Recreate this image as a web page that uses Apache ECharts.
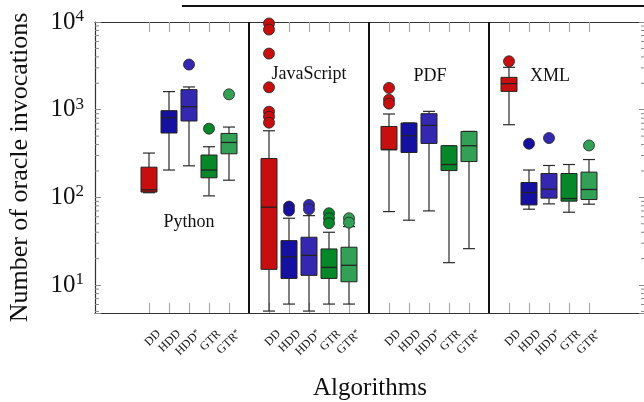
<!DOCTYPE html>
<html><head><meta charset="utf-8">
<script src="https://cdn.jsdelivr.net/npm/echarts@6/dist/echarts.min.js"></script>
<style>html,body{margin:0;padding:0;background:#fff}#c{width:644px;height:402px}</style>
</head><body><div id="c"></div>
<script>
const groups = ['Python', 'JavaScript', 'PDF', 'XML'];
const algorithms = ['DD', 'HDD', 'HDD*', 'GTR', 'GTR*'];
// per group (Python, JavaScript, PDF, XML): [min, Q1, median, Q3, max]
const ddStats      = [[113, 115, 122, 221, 320], [5.05, 15.1, 77.3, 277, 575], [68.8, 349, 351, 644, 893], [674, 1618, 1982, 2338, 3041]];
const hddStats     = [[205, 542, 811, 974, 1607], [6.07, 11.9, 21.0, 32.1, 57.8], [54.9, 325, 505, 705, 705], [73.3, 82, 113.5, 147.6, 205]];
const hddStarStats = [[229, 743, 1082, 1693, 1817], [5.05, 12.9, 21.8, 35.1, 61.9], [70.1, 412, 662, 900, 957], [84.3, 98, 124, 187, 231]];
const gtrStats     = [[104, 167, 205, 304, 378], [6.07, 11.9, 15.9, 25.8, 40], [18.0, 202, 237, 388, 388], [67.7, 90.5, 96.9, 187, 237]];
const gtrStarStats = [[157, 314, 423, 536, 634], [6.07, 10.9, 16.8, 27, 46.4], [26.0, 256, 388, 565, 565], [83.6, 94.4, 123, 194, 270]];
// outliers: [groupIndex, value]
const ddOutliers      = [[1, 9620], [1, 8204], [1, 4365], [1, 1799], [1, 949], [1, 832], [1, 710], [2, 1771], [2, 1301], [2, 1172], [3, 3565]];
const hddOutliers     = [[1, 78.5], [1, 70.6], [3, 409]];
const hddStarOutliers = [[0, 3268], [1, 82], [1, 73.3], [3, 475]];
const gtrOutliers     = [[0, 607], [1, 65.9], [1, 57.8], [1, 50.7]];
const gtrStarOutliers = [[0, 1496], [1, 57.8], [1, 51.5], [3, 391]];
const yMajorTicks = [10, 100, 1000, 10000];
const yMinorTicks = [5, 6, 7, 8, 9, 20, 30, 40, 50, 60, 70, 80, 90, 200, 300, 400, 500, 600, 700, 800, 900, 2000, 3000, 4000, 5000, 6000, 7000, 8000, 9000];

const colors = ['#c80f0f', '#1510a0', '#3428b0', '#06872a', '#32a055'];
const allStats = [ddStats, hddStats, hddStarStats, gtrStats, gtrStarStats];
const allOutliers = [ddOutliers, hddOutliers, hddStarOutliers, gtrOutliers, gtrStarOutliers];
const SLOT = algorithms.length + 1;
const XMIN = -2.7, XMAX = 24.8;
const xPos = (g, a) => g * SLOT + a;
const tickPositions = [];
groups.forEach((_, g) => algorithms.forEach((_, a) => tickPositions.push(xPos(g, a))));
const LABEL_SHIFT = 0.5;
const labelPositions = tickPositions.map(p => p + LABEL_SHIFT);
const SERIF = '"Liberation Serif", "DejaVu Serif", serif';

function renderBox(params, api) {
  const x = api.value(0);
  const lo = api.coord([x, api.value(1)]);
  const q1 = api.coord([x, api.value(2)]);
  const md = api.coord([x, api.value(3)]);
  const q3 = api.coord([x, api.value(4)]);
  const hi = api.coord([x, api.value(5)]);
  const cx = lo[0], bw = 16, cw = 12;
  const ws = { stroke: '#2a2a2a', lineWidth: 1.2 };
  return { type: 'group', children: [
    { type: 'line', shape: { x1: cx, y1: hi[1], x2: cx, y2: q3[1] }, style: ws },
    { type: 'line', shape: { x1: cx, y1: q1[1], x2: cx, y2: lo[1] }, style: ws },
    { type: 'line', shape: { x1: cx - cw / 2, y1: hi[1], x2: cx + cw / 2, y2: hi[1] }, style: ws },
    { type: 'line', shape: { x1: cx - cw / 2, y1: lo[1], x2: cx + cw / 2, y2: lo[1] }, style: ws },
    { type: 'rect', shape: { x: cx - bw / 2, y: q3[1], width: bw, height: q1[1] - q3[1] }, style: { fill: api.visual('color'), stroke: '#222', lineWidth: 1 } },
    { type: 'line', shape: { x1: cx - bw / 2, y1: md[1], x2: cx + bw / 2, y2: md[1] }, style: { stroke: '#222', lineWidth: 1.3 } }
  ] };
}
function renderMinor(params, api) {
  const v = api.value(1);
  const left = api.coord([XMIN, v]);
  const right = api.coord([XMAX, v]);
  const st = { stroke: '#888', lineWidth: 1 };
  return { type: 'group', children: [
    { type: 'line', shape: { x1: left[0], y1: left[1], x2: left[0] + 4, y2: left[1] }, style: st },
    { type: 'line', shape: { x1: right[0] - 4, y1: right[1], x2: right[0], y2: right[1] }, style: st }
  ] };
}
function xLabel(v) {
  const a = Math.round(v - LABEL_SHIFT) % SLOT;
  const name = algorithms[a] || '';
  if (name.endsWith('*')) return '{t|' + name.slice(0, -1) + '}{s|*}';
  return '{t|' + name + '}';
}
function yLabel(v) {
  const e = Math.log10(v);
  if (Math.abs(e - Math.round(e)) > 1e-6) return '';
  return '{b|10}{e|' + Math.round(e) + '}';
}

const series = [];
algorithms.forEach((name, a) => {
  series.push({
    type: 'custom', name: name, renderItem: renderBox, itemStyle: { color: colors[a] },
    encode: { x: 0, y: [1, 2, 3, 4, 5] }, z: 3,
    data: allStats[a].map((s, g) => [xPos(g, a)].concat(s)),
    markLine: a === 0 ? {
      silent: true, symbol: 'none', label: { show: false }, animation: false,
      lineStyle: { color: '#111', width: 2, type: 'solid' },
      data: [{ xAxis: xPos(1, -1) }, { xAxis: xPos(2, -1) }, { xAxis: xPos(3, -1) }]
    } : undefined
  });
});
algorithms.forEach((name, a) => {
  series.push({
    type: 'scatter', name: name + ' outliers', symbol: 'circle', symbolSize: 11, z: 4,
    itemStyle: { color: colors[a], borderColor: '#222', borderWidth: 0.8, opacity: 1 },
    data: allOutliers[a].map(o => [xPos(o[0], a), o[1]])
  });
});
series.push({ type: 'custom', renderItem: renderMinor, encode: { x: 0, y: 1 }, z: 5, silent: true, clip: false,
  data: yMinorTicks.map(v => [0, v]) });

const chart = echarts.init(document.getElementById('c'), null, { renderer: 'canvas' });
chart.setOption({
  animation: false,
  backgroundColor: '#fff',
  grid: { left: 95, top: 22, width: 550, height: 291, outerBoundsMode: 'none', containLabel: false },
  xAxis: [{
    type: 'value', min: XMIN, max: XMAX, position: 'bottom',
    name: 'Algorithms', nameLocation: 'middle', nameGap: 63,
    nameTextStyle: { fontFamily: SERIF, fontSize: 25, color: '#111' },
    axisLine: { show: true, onZero: false, lineStyle: { color: '#333', width: 1.2 } },
    axisTick: { show: true, inside: true, length: 10, customValues: tickPositions, lineStyle: { color: '#aaa', width: 1.2 } },
    axisLabel: { show: true, rotate: 45, margin: 19, customValues: labelPositions, formatter: xLabel,
      rich: { t: { fontFamily: SERIF, fontSize: 12, color: '#111' }, s: { fontFamily: SERIF, fontSize: 9, color: '#111', verticalAlign: 'top' } } },
    splitLine: { show: false }
  }, {
    type: 'value', min: XMIN, max: XMAX, position: 'top',
    axisLine: { show: true, onZero: false, lineStyle: { color: '#333', width: 1.2 } },
    axisTick: { show: true, inside: true, length: 10, customValues: tickPositions, lineStyle: { color: '#aaa', width: 1.2 } },
    axisLabel: { show: false }, splitLine: { show: false }
  }],
  yAxis: [{
    type: 'log', logBase: 10, min: 4.8, max: 10000, position: 'left',
    name: 'Number of oracle invocations', nameLocation: 'middle', nameGap: 62,
    nameTextStyle: { fontFamily: SERIF, fontSize: 26, color: '#111' },
    axisLine: { show: true, onZero: false, lineStyle: { color: '#333', width: 1.2 } },
    axisTick: { show: true, inside: true, length: 6, lineStyle: { color: '#888', width: 1 } },
    axisLabel: { show: true, margin: 11, formatter: yLabel,
      rich: { b: { fontFamily: SERIF, fontSize: 25, color: '#111', lineHeight: 28 }, e: { fontFamily: SERIF, fontSize: 17, color: '#111', verticalAlign: 'top', lineHeight: 18 } } },
    splitLine: { show: false }, minorTick: { show: false }
  }, {
    type: 'log', logBase: 10, min: 4.8, max: 10000, position: 'right',
    axisLine: { show: true, onZero: false, lineStyle: { color: '#333', width: 1.2 } },
    axisTick: { show: true, inside: true, length: 6, lineStyle: { color: '#888', width: 1 } },
    axisLabel: { show: false }, splitLine: { show: false }
  }],
  graphic: [
    { type: 'line', shape: { x1: 182, y1: 6, x2: 644, y2: 6 }, style: { stroke: '#111', lineWidth: 2 } },
    { type: 'text', x: 189, y: 222, style: { text: groups[0], fontFamily: SERIF, fontSize: 18, fill: '#111', align: 'center', verticalAlign: 'middle' } },
    { type: 'text', x: 309, y: 74, style: { text: groups[1], fontFamily: SERIF, fontSize: 18, fill: '#111', align: 'center', verticalAlign: 'middle' } },
    { type: 'text', x: 430, y: 76, style: { text: groups[2], fontFamily: SERIF, fontSize: 18, fill: '#111', align: 'center', verticalAlign: 'middle' } },
    { type: 'text', x: 550, y: 76, style: { text: groups[3], fontFamily: SERIF, fontSize: 18, fill: '#111', align: 'center', verticalAlign: 'middle' } }
  ],
  series: series
});
</script></body></html>
